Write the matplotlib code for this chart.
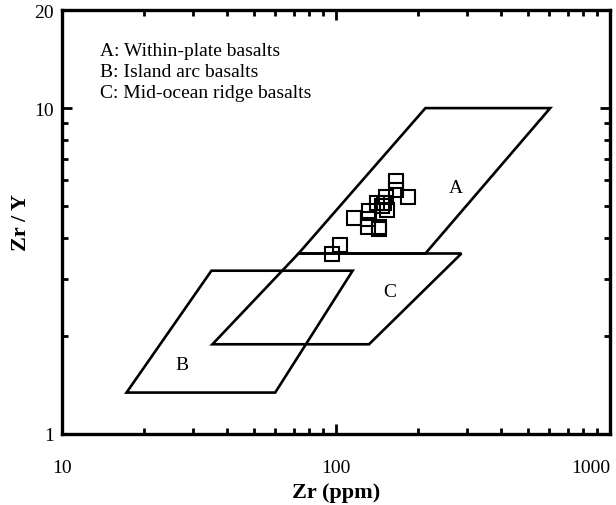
import numpy as np
import matplotlib.pyplot as plt
from matplotlib.ticker import FixedLocator, NullFormatter

plt.rcParams['font.family'] = ['Liberation Serif', 'DejaVu Serif']

# field outlines (Zr ppm, Zr/Y)
field_a_zr = [73, 212, 605, 212]
field_a_ratio = [3.58, 3.58, 10.0, 10.0]
field_b_zr = [17.2, 60, 115, 35.1]
field_b_ratio = [1.34, 1.34, 3.17, 3.17]
field_c_zr = [35.4, 132, 287, 73]
field_c_ratio = [1.885, 1.885, 3.58, 3.58]

# samples
zr = [166, 166, 183, 152, 141, 150, 154, 132, 116, 131, 131, 143, 143, 103, 97, 147]
zr_y = [5.96, 5.59, 5.33, 5.33, 5.11, 5.13, 4.87, 4.84, 4.61, 4.57, 4.31, 4.31, 4.25, 3.81, 3.57, 5.01]

legend_lines = ["A: Within-plate basalts", "B: Island arc basalts", "C: Mid-ocean ridge basalts"]

fig = plt.figure(figsize=(6.16, 5.06), dpi=100)
ax = fig.add_axes([62/616, 71/506, 548/616, 424/506])

for xs, ys in [(field_a_zr, field_a_ratio), (field_b_zr, field_b_ratio), (field_c_zr, field_c_ratio)]:
    ax.fill(xs, ys, fill=False, edgecolor='black', linewidth=1.9, joinstyle='miter')

ax.plot(zr, zr_y, 's', markersize=9.5, markerfacecolor='none', markeredgecolor='black',
        markeredgewidth=1.5, linestyle='none')

ax.text(273, 5.69, "A", fontsize=14, ha='center', va='center')
ax.text(27.5, 1.63, "B", fontsize=14, ha='center', va='center')
ax.text(157, 2.74, "C", fontsize=14, ha='center', va='center')

for i, s in enumerate(legend_lines):
    ax.text(0.07, 0.905 - i*0.05, s, transform=ax.transAxes, fontsize=14, va='center')

ax.set_xscale('log')
ax.set_yscale('log')
ax.set_xlim(10, 1000)
ax.set_ylim(1, 20)

ax.set_xticks([10, 100, 1000], ['10', '100', '1000'])
ax.set_yticks([1, 10, 20], ['1', '10', '20'])
ax.xaxis.set_minor_locator(FixedLocator([v * d for d in (10, 100) for v in range(2, 10)]))
ax.yaxis.set_minor_locator(FixedLocator([2, 3, 4, 5, 6, 7, 8, 9]))
ax.xaxis.set_minor_formatter(NullFormatter())
ax.yaxis.set_minor_formatter(NullFormatter())

ax.tick_params(which='both', direction='in', top=True, right=True, labelsize=14, width=2)
ax.tick_params(axis='x', which='major', length=7, pad=18)
ax.tick_params(axis='y', which='major', length=7, pad=6)
ax.tick_params(which='minor', length=4)
ax.get_xticklabels()[-1].set_horizontalalignment('right')

for sp in ax.spines.values():
    sp.set_linewidth(2.4)

ax.set_xlabel("Zr (ppm)", fontsize=16, fontweight='bold', labelpad=4)
ax.set_ylabel("Zr / Y", fontsize=16, fontweight='bold', labelpad=2)

fig.savefig("out.png", dpi=100)
